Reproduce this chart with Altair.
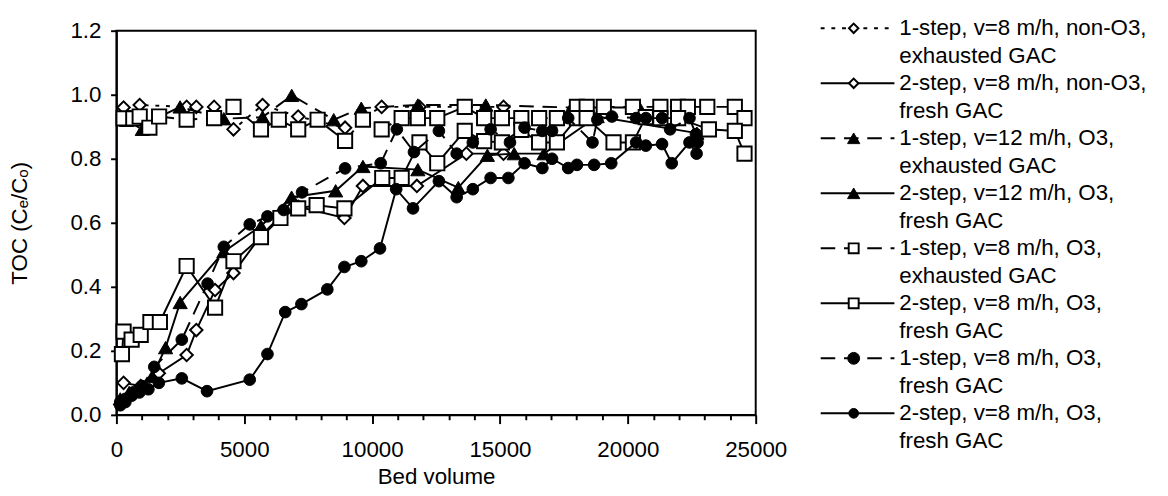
import altair as alt
import pandas as pd

FONT = "Liberation Sans"
FS = 23

series_names = [
    "1-step, v=8 m/h, non-O3, exhausted GAC",
    "2-step, v=8 m/h, non-O3, fresh GAC",
    "1-step, v=12 m/h, O3, exhausted GAC",
    "2-step, v=12 m/h, O3, fresh GAC",
    "1-step, v=8 m/h, O3, exhausted GAC",
    "2-step, v=8 m/h, O3, fresh GAC",
    "1-step, v=8 m/h, O3, fresh GAC",
    "2-step, v=8 m/h, O3, fresh GAC ",
]
legend_line1 = [
    "1-step, v=8 m/h, non-O3,", "2-step, v=8 m/h, non-O3,",
    "1-step, v=12 m/h, O3,", "2-step, v=12 m/h, O3,",
    "1-step, v=8 m/h, O3,", "2-step, v=8 m/h, O3,",
    "1-step, v=8 m/h, O3,", "2-step, v=8 m/h, O3,",
]
legend_line2 = [
    "exhausted GAC", "fresh GAC", "exhausted GAC", "fresh GAC",
    "exhausted GAC", "fresh GAC", "fresh GAC", "fresh GAC",
]

# Series A: 1-step, v=8, non-O3, exhausted (dotted, open diamonds)
a_bv = [280, 911, 2746, 3125, 3820, 4578, 5716, 7109, 8942, 10373, 11851, 15138]
a_toc = [0.96, 0.968, 0.962, 0.962, 0.962, 0.892, 0.968, 0.932, 0.897, 0.962, 0.962, 0.962]

# Series B: 2-step, v=8, non-O3, fresh (solid, open diamonds)
b_bv = [280, 950, 1660, 2746, 3125, 3858, 4578, 5653, 6414, 7109, 8916, 9640, 11750, 13685, 15138]
b_toc = [0.10, 0.09, 0.13, 0.187, 0.265, 0.39, 0.443, 0.56, 0.62, 0.65, 0.615, 0.715, 0.715, 0.816, 0.816]

# Series C: 1-step, v=12, O3, exhausted (dashed, filled triangles)
c_bv = [400, 1012, 1670, 2490, 4200, 5716, 6856, 8498, 9576, 11788, 14444, 17800, 20450]
c_toc = [0.92, 0.892, 0.93, 0.962, 0.925, 0.93, 0.998, 0.922, 0.958, 0.968, 0.968, 0.96, 0.96]

# Series D: 2-step, v=12, O3, fresh (solid, filled triangles)
d_bv = [150, 500, 1000, 1400, 1923, 2493, 4200, 5653, 6850, 8574, 9640, 11788, 13369, 14507, 15556, 16720, 18800, 22700]
d_toc = [0.05, 0.07, 0.09, 0.12, 0.21, 0.351, 0.51, 0.59, 0.68, 0.70, 0.776, 0.766, 0.71, 0.811, 0.816, 0.816, 0.932, 0.88]

# Series E: 1-step, v=8, O3, exhausted (dashed, open squares)
e_bv = [280, 660, 911, 1290, 1670, 2746, 3820, 4578, 5653, 6350, 7109, 7868, 8942, 9640, 10373, 11155,
        11788, 12547, 13621, 14380, 15075, 15834, 16530, 17225, 18010, 18389, 19060, 20198, 21272, 21967,
        22347, 23106, 24183, 24562]
e_toc = [0.926, 0.926, 0.932, 0.897, 0.932, 0.922, 0.927, 0.962, 0.892, 0.922, 0.892, 0.922, 0.856, 0.922,
         0.892, 0.927, 0.927, 0.927, 0.962, 0.927, 0.927, 0.927, 0.927, 0.927, 0.962, 0.962, 0.962, 0.962,
         0.962, 0.962, 0.962, 0.962, 0.962, 0.927]

# Series F: 2-step, v=8, O3, fresh (solid, open squares)
f_bv = [216, 280, 595, 950, 1330, 1700, 2746, 3858, 4578, 5653, 6414, 7109, 7830, 8916, 10396, 11155,
        11851, 12547, 13621, 14380, 15075, 15834, 16530, 17225, 18010, 18389, 19440, 20198, 20700, 21272,
        21967, 23169, 24183, 24562]
f_toc = [0.19, 0.26, 0.235, 0.25, 0.29, 0.29, 0.465, 0.335, 0.48, 0.555, 0.615, 0.645, 0.655, 0.645, 0.74,
         0.74, 0.851, 0.786, 0.887, 0.855, 0.851, 0.89, 0.851, 0.851, 0.927, 0.927, 0.851, 0.851, 0.93,
         0.927, 0.927, 0.892, 0.887, 0.816]

# Series G: 1-step, v=8, O3, fresh (dashed, filled circles)
g_bv = [150, 350, 650, 1000, 1480, 2557, 3566, 4200, 5213, 5907, 6540, 7260, 8942, 10335, 10966, 11636,
        12610, 13306, 13938, 14634, 15391, 15960, 16656, 17035, 17668, 18617, 18807, 19376, 20325, 20704,
        21337, 21652, 22410, 22663, 22726]
g_toc = [0.04, 0.05, 0.07, 0.09, 0.15, 0.235, 0.41, 0.525, 0.595, 0.62, 0.64, 0.695, 0.77, 0.786, 0.892,
         0.821, 0.887, 0.816, 0.851, 0.892, 0.851, 0.897, 0.887, 0.887, 0.927, 0.851, 0.922, 0.932, 0.927,
         0.927, 0.927, 0.892, 0.927, 0.877, 0.851]

# Series H: 2-step, v=8, O3, fresh (solid, filled circles)
h_bv = [150, 350, 600, 900, 1250, 1660, 2557, 3543, 5213, 5907, 6602, 7235, 8248, 8916, 9576, 10308, 10941,
        11598, 12610, 13306, 13938, 14634, 15328, 15960, 16656, 17035, 17668, 18010, 18681, 19351, 20325,
        20704, 21337, 21716, 22410, 22688]
h_toc = [0.03, 0.04, 0.06, 0.07, 0.08, 0.10, 0.114, 0.074, 0.11, 0.19, 0.321, 0.346, 0.392, 0.462, 0.48,
         0.52, 0.705, 0.645, 0.73, 0.68, 0.705, 0.74, 0.74, 0.786, 0.771, 0.80, 0.771, 0.781, 0.781, 0.786,
         0.851, 0.841, 0.846, 0.786, 0.851, 0.816]

x_ticks = list(range(0, 25001, 1000))
y_ticks = [0.0, 0.2, 0.4, 0.6, 0.8, 1.0, 1.2]

all_bv = [a_bv, b_bv, c_bv, d_bv, e_bv, f_bv, g_bv, h_bv]
all_toc = [a_toc, b_toc, c_toc, d_toc, e_toc, f_toc, g_toc, h_toc]

DOT = [4, 7]
DASH = [15, 9]
styles = [
    dict(dash=DOT, shape="diamond", fill="white", size=165, lsize=95),
    dict(dash=None, shape="diamond", fill="white", size=165, lsize=95),
    dict(dash=DASH, shape="triangle-up", fill="black", size=215, lsize=160),
    dict(dash=None, shape="triangle-up", fill="black", size=215, lsize=160),
    dict(dash=DASH, shape="square", fill="white", size=215, lsize=105),
    dict(dash=None, shape="square", fill="white", size=215, lsize=105),
    dict(dash=DASH, shape="circle", fill="black", size=145, lsize=150),
    dict(dash=None, shape="circle", fill="black", size=145, lsize=100),
]

rows = []
for name, bvs, tocs in zip(series_names, all_bv, all_toc):
    for i, (b, t) in enumerate(zip(bvs, tocs)):
        rows.append({"series": name, "bv": b, "toc": t, "order": i})
df = pd.DataFrame(rows)

x_enc = alt.X(
    "bv:Q",
    scale=alt.Scale(domain=[0, 25000], nice=False, zero=False),
    axis=alt.Axis(
        values=x_ticks, format="d", title="Bed volume",
        labelExpr="datum.value % 5000 === 0 ? datum.label : ''",
        tickSize=alt.condition("datum.value % 5000 === 0", alt.value(9), alt.value(5)),
        labelPadding=16, titlePadding=5, labelFlush=False, labelOverlap=False,
    ),
)
y_enc = alt.Y(
    "toc:Q",
    scale=alt.Scale(domain=[0, 1.2], nice=False),
    axis=alt.Axis(values=y_ticks, format=".1f", title="TOC (Cₑ/Cₒ)",
                  labelPadding=10, titlePadding=40),
)

base = alt.Chart(df)
layers = []
for name, st in zip(series_names, styles):
    sub = base.transform_filter(alt.datum.series == name)
    line_kwargs = dict(color="black", strokeWidth=2)
    if st["dash"]:
        line_kwargs["strokeDash"] = st["dash"]
    layers.append(sub.mark_line(**line_kwargs).encode(x=x_enc, y=y_enc, order="order:Q"))
    layers.append(
        sub.mark_point(shape=st["shape"], filled=True, fill=st["fill"], stroke="black",
                       strokeWidth=2 if st["fill"] == "white" else 1, size=st["size"],
                       opacity=1, fillOpacity=1, strokeOpacity=1)
        .encode(x=x_enc, y=y_enc)
    )

main = alt.layer(*layers).properties(width=659, height=396)

# Legend panel
leg_rows = []
for i in range(8):
    leg_rows.append({"idx": i, "pos": i, "pos2": i + 0.5,
                     "line1": legend_line1[i], "line2": legend_line2[i]})
leg_df = pd.DataFrame(leg_rows)
leg_scale = alt.Scale(domain=[0.044, 7.028], reverse=True, nice=False, zero=False)
leg_base = alt.Chart(leg_df)
leg_layers = []
for i, st in enumerate(styles):
    sub = leg_base.transform_filter(alt.datum.idx == i)
    rk = dict(color="black", strokeWidth=2)
    if st["dash"]:
        rk["strokeDash"] = st["dash"]
    leg_layers.append(sub.mark_rule(**rk).encode(
        x=alt.value(3), x2=alt.value(79), y=alt.Y("pos:Q", scale=leg_scale, axis=None)))
    leg_layers.append(sub.mark_point(shape=st["shape"], filled=True, fill=st["fill"], stroke="black",
                                     strokeWidth=2 if st["fill"] == "white" else 1, size=st["lsize"],
                                     opacity=1).encode(
        x=alt.value(37), y=alt.Y("pos:Q", scale=leg_scale, axis=None)))
leg_layers.append(leg_base.mark_text(align="left", baseline="middle", fontSize=FS, font=FONT,
                                     color="black").encode(
    x=alt.value(84), y=alt.Y("pos:Q", scale=leg_scale, axis=None), text="line1:N"))
leg_layers.append(leg_base.mark_text(align="left", baseline="middle", fontSize=FS, font=FONT,
                                     color="black").encode(
    x=alt.value(84), y=alt.Y("pos2:Q", scale=leg_scale, axis=None), text="line2:N"))
legend = alt.layer(*leg_layers).properties(
    width=360, height=396, view=alt.ViewBackground(stroke="transparent"))

chart = alt.hconcat(main, legend, spacing=30).properties(
    padding={"left": 8, "top": 9, "right": 0, "bottom": 0},
    background="white",
).configure_view(stroke="black", strokeWidth=2).configure_axis(
    grid=False, domainColor="black", domainWidth=2, tickColor="black", tickWidth=2, tickSize=6,
    labelFont=FONT, titleFont=FONT, labelFontSize=FS, titleFontSize=FS, labelColor="black",
    titleColor="black", titleFontWeight="normal",
).configure_text(font=FONT)

chart.save("out.html", embed_options={"renderer": "svg", "actions": False})
